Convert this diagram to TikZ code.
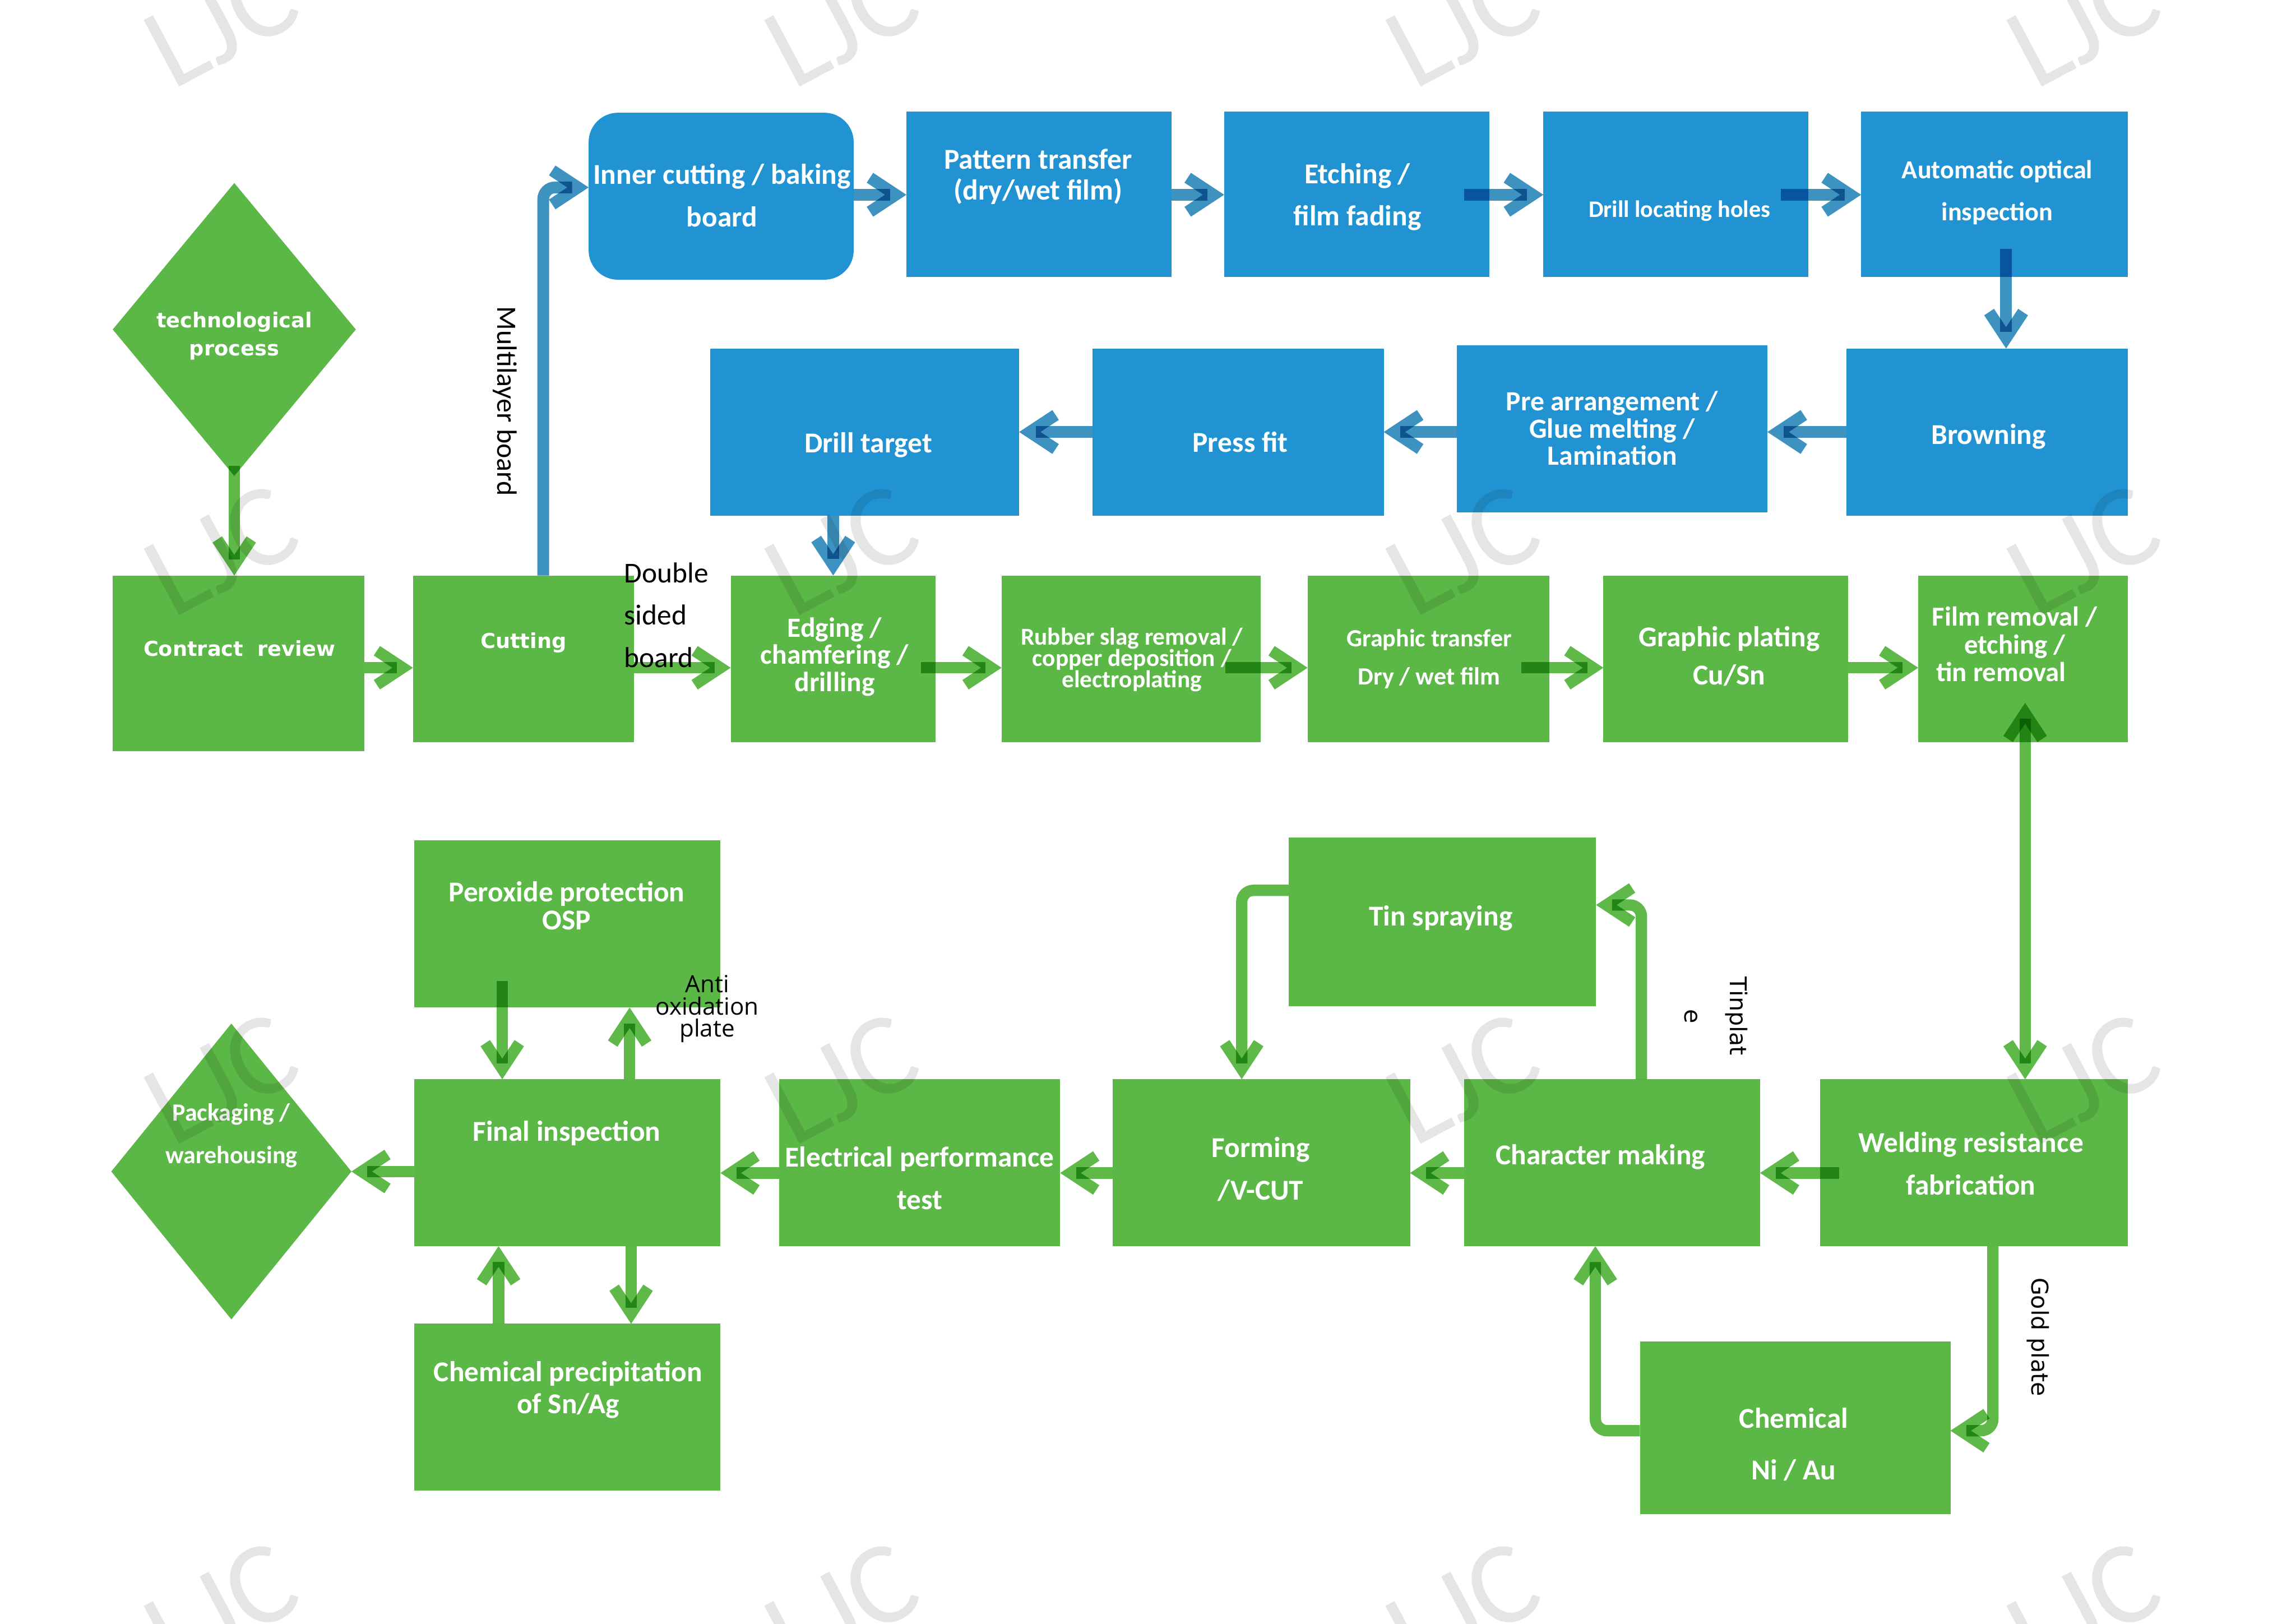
\documentclass[tikz,border=0pt]{standalone}
\usepackage{fontspec}
\setmainfont{Carlito}
\newfontfamily\vfont{DejaVu Sans}
\newfontfamily\osfont{Open Sans}
\usetikzlibrary{arrows.meta,shapes.geometric}
\definecolor{gfill}{RGB}{91,183,70}
\definecolor{bfill}{RGB}{33,147,211}
\definecolor{gline}{RGB}{94,185,72}
\definecolor{bline}{RGB}{62,146,192}
\newcommand\fsz[2]{\fontsize{#1}{#2}\selectfont}
\newcommand\bx[6]{\node[#1,minimum width={(#5-#3)*0.025cm},minimum height={(#6-#4)*0.025cm}] (#2) at ({(#3+#5)/2},{(#4+#6)/2}) {};}
\tikzset{
  chev/.tip={Straight Barb[length=0.44cm,width=0.58cm]},
  gbox/.style={rectangle, fill=gfill, draw=none, inner sep=0pt, outer sep=0pt},
  bbox/.style={rectangle, fill=bfill, draw=none, inner sep=0pt, outer sep=0pt},
  gdiam/.style={diamond, fill=gfill, draw=none, inner sep=0pt, outer sep=0pt},
  garrow/.style={draw=gline, line width=5.5pt, -chev, blend mode=multiply},
  barrow/.style={draw=bline, line width=5.7pt, -chev, blend mode=multiply},
  wt/.style n args={2}{text=white, align=center, inner sep=0pt, font=\bfseries\fsz{#1}{#2}},
  wv/.style n args={2}{text=white, align=center, inner sep=0pt, font=\vfont\bfseries\fsz{#1}{#2}},
  ltxt/.style={text=black, inner sep=0pt},
  wmark/.style={text=black, text opacity=0.1, rotate=28, inner sep=0pt, font=\normalfont\fsz{57}{57}},
}
\begin{document}
\begin{tikzpicture}[x=0.025cm,y=-0.025cm]
\useasboundingbox (0,0) rectangle (1568,1109);
\fill[white] (0,0) rectangle (1568,1109);
% blue boxes
\bx{bbox,rounded corners=0.5cm}{inner}{402}{77}{583}{191}
\bx{bbox}{pat}{619}{76}{800}{189}
\bx{bbox}{etch}{836}{76}{1017}{189}
\bx{bbox}{dlh}{1054}{76}{1235}{189}
\bx{bbox}{aoi}{1271}{76}{1453}{189}
\bx{bbox}{brown}{1261}{238}{1453}{352}
\bx{bbox}{pre}{995}{236}{1207}{350}
\bx{bbox}{press}{746}{238}{945}{352}
\bx{bbox}{dt}{485}{238}{696}{352}
% green boxes
\node[gdiam, minimum width=166*0.025cm, minimum height=200*0.025cm] (tp) at (160,225) {};
\bx{gbox}{cr}{77}{393}{249}{513}
\bx{gbox}{cut}{282}{393}{433}{507}
\bx{gbox}{edge}{499}{393}{639}{507}
\bx{gbox}{rub}{684}{393}{861}{507}
\bx{gbox}{gt}{893}{393}{1058}{507}
\bx{gbox}{gp}{1095}{393}{1262}{507}
\bx{gbox}{film}{1310}{393}{1453}{507}
\bx{gbox}{tin}{880}{572}{1090}{687}
\bx{gbox}{perox}{283}{574}{492}{688}
\node[gdiam, minimum width=164*0.025cm, minimum height=202*0.025cm] (pack) at (158,800) {};
\bx{gbox}{fin}{283}{737}{492}{851}
\bx{gbox}{elec}{532}{737}{724}{851}
\bx{gbox}{form}{760}{737}{963}{851}
\bx{gbox}{char}{1000}{737}{1202}{851}
\bx{gbox}{weld}{1243}{737}{1453}{851}
\bx{gbox}{csa}{283}{904}{492}{1018}
\bx{gbox}{chem}{1120}{916}{1332}{1034}
% blue connectors
\coordinate (m1) at (371,128);
\draw[barrow, rounded corners=0.2cm] (m1 |- cut.north) -- (m1) -- (m1 -| inner.west);
\coordinate (yt) at (0,133);
\draw[barrow] (inner.east |- yt) -- (pat.west |- yt);
\draw[barrow] (pat.east |- yt) -- (etch.west |- yt);
\coordinate (s4) at (1000,133);
\draw[barrow] (s4) -- (dlh.west |- s4);
\coordinate (s5) at (1216,133);
\draw[barrow] (s5) -- (aoi.west |- s5);
\coordinate (s6) at (1370,170);
\draw[barrow] (s6) -- (s6 |- brown.north);
\coordinate (ym) at (0,295);
\draw[barrow] (brown.west |- ym) -- (pre.east |- ym);
\draw[barrow] (pre.west |- ym) -- (press.east |- ym);
\draw[barrow] (press.west |- ym) -- (dt.east |- ym);
\coordinate (s10) at (569,0);
\draw[barrow] (s10 |- dt.south) -- (s10 |- edge.north);
% green connectors
\coordinate (s11) at (160,318);
\draw[garrow] (s11) -- (s11 |- cr.north);
\coordinate (yr) at (0,456);
\draw[garrow] (cr.east |- yr) -- (cut.west |- yr);
\draw[garrow] (cut.east |- yr) -- (edge.west |- yr);
\coordinate (s14) at (629,456);
\draw[garrow] (s14) -- (rub.west |- s14);
\coordinate (s15) at (837,456);
\draw[garrow] (s15) -- (gt.west |- s15);
\coordinate (s16) at (1039,456);
\draw[garrow] (s16) -- (gp.west |- s16);
\draw[garrow] (gp.east |- yr) -- (film.west |- yr);
\coordinate (s18) at (1383,480);
\draw[garrow, chev-chev] (s18) -- (s18 |- weld.north);
\coordinate (yb) at (0,801);
\coordinate (s19) at (1256,801);
\draw[garrow] (s19) -- (char.east |- s19);
\draw[garrow] (char.west |- yb) -- (form.east |- yb);
\draw[garrow] (form.west |- yb) -- (elec.east |- yb);
\draw[garrow] (elec.west |- yb) -- (fin.east |- yb);
\draw[garrow] (fin.west |- pack.east) -- (pack.east);
\coordinate (s24) at (343,670);
\draw[garrow] (s24) -- (s24 |- fin.north);
\coordinate (x25) at (430,0);
\draw[garrow] (x25 |- fin.north) -- (x25 |- perox.south);
\coordinate (x26) at (340.5,0);
\draw[garrow] (x26 |- csa.north) -- (x26 |- fin.south);
\coordinate (x27) at (431,0);
\draw[garrow] (x27 |- fin.south) -- (x27 |- csa.north);
\coordinate (c28) at (1361,977);
\draw[garrow, rounded corners=0.2cm] (c28 |- weld.south) -- (c28) -- (c28 -| chem.east);
\coordinate (c29) at (1089.5,977);
\draw[garrow, rounded corners=0.2cm] (c29 -| chem.west) -- (c29) -- (c29 |- char.south);
\coordinate (c30) at (1121,618);
\draw[garrow, rounded corners=0.2cm] (c30 |- char.north) -- (c30) -- (c30 -| tin.east);
\coordinate (c31) at (848,608);
\draw[garrow, rounded corners=0.2cm] (c31 -| tin.west) -- (c31) -- (c31 |- form.north);
% box texts
\node[wv={10}{13.5}] (tp-t) at (160,229.5) {technological\\process};
\node[wv={10}{12}] (cr-t) at (163.5,443) {Contract\ \ review};
\node[wv={10}{12}] (cut-t) at (357.5,439) {Cutting};
\node[wt={14}{20.6}] (inner-t) at (493,133.5) {Inner cutting / baking\\board};
\node[wt={14}{15}] (pat-t) at (709,120.5) {Pattern transfer\\(dry/wet film)};
\node[wt={14}{20.6}] (etch-t) at (927,134.5) {Etching /\\film fading};
\node[wt={11.5}{13}] (dlh-t) at (1147,144) {Drill locating holes};
\node[wt={12.6}{20.6}] (aoi-t) at (1364,131.5) {Automatic optical\\inspection};
\node[wt={14}{16}] (brown-t) at (1358,298) {Browning};
\node[wt={13.5}{13.2}] (pre-t) at (1101,292.5) {Pre arrangement /\\Glue melting /\\Lamination};
\node[wt={14}{16}] (press-t) at (847,302) {Press fit};
\node[wt={14}{16}] (dt-t) at (593,304) {Drill target};
\node[wt={13.5}{13.2}] (edge-t) at (570,448.5) {Edging /\\chamfering /\\drilling};
\node[wt={11.8}{10.3}] (rub-t) at (773,450.5) {Rubber slag removal /\\copper deposition /\\electroplating};
\node[wt={12}{18.5}] (gt-t) at (976,450) {Graphic transfer\\Dry / wet film};
\node[wt={14}{18.5}] (gp-t) at (1181,448) {Graphic plating\\Cu/Sn};
\node[wt={13.3}{13.5}] (film-t) at (1376,440) {Film removal /\\etching /\\tin removal\hspace*{1em}};
\node[wt={14}{16}] (tin-t) at (984,627) {Tin spraying};
\node[wt={14}{13.5}] (perox-t) at (387,618.5) {Peroxide protection\\OSP};
\node[wt={14}{16}] (fin-t) at (387,774) {Final inspection};
\node[wt={14}{15.6}] (csa-t) at (388,949) {Chemical precipitation\\of Sn/Ag};
\node[wt={14}{20.6}] (elec-t) at (628,804.5) {Electrical performance\\test};
\node[wt={14}{20.6}] (form-t) at (861,798.5) {Forming\\/V-CUT};
\node[wt={14}{16}] (char-t) at (1093,790) {Character making};
\node[wt={14}{20.6}] (weld-t) at (1346,794.5) {Welding resistance\\fabrication};
\node[wt={14}{25}] (chem-t) at (1225,986.5) {Chemical\\Ni / Au};
\node[wt={12}{20.6}] (pack-t) at (158,775.5) {Packaging /\\warehousing};
% labels
\node[ltxt, rotate=-90, font=\fsz{13.6}{15}] (lml) at (345,274) {Multilayer board};
\node[ltxt, anchor=west, align=left, font=\fsz{14}{20.6}] (ldb) at (426,420) {Double\\sided\\board};
\node[ltxt, align=center, font=\osfont\fsz{11.5}{10.7}] (lao) at (483,689) {Anti\\oxidation\\plate};
\node[ltxt, rotate=-90, align=center, font=\vfont\fsz{11.2}{22}] (ltp) at (1172,694) {Tinplat\\e};
\node[ltxt, rotate=-90, font=\vfont\fsz{11.2}{13}] (lgp) at (1392,913) {Gold plate};
% watermarks
\begin{scope}
\clip (0,0) rectangle (1568,1109);
\foreach \i/\x in {1/151,2/575,3/999,4/1423}{
  \foreach \j/\y in {1/15,2/376,3/737,4/1098}{
    \node[wmark] (wm\i\j) at (\x,\y) {LJC};
  }
}
\end{scope}
\end{tikzpicture}
\end{document}
